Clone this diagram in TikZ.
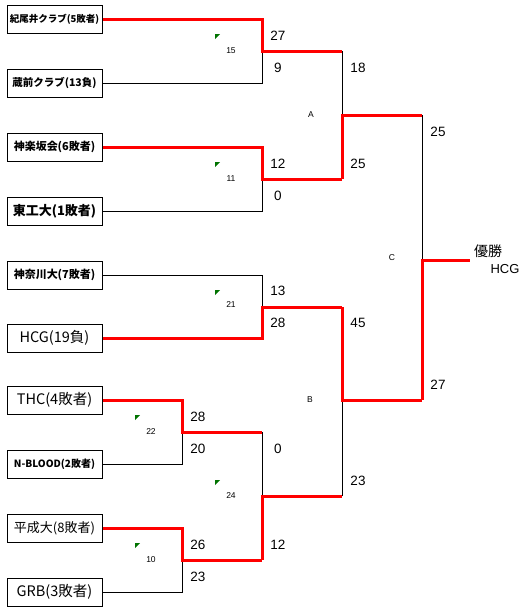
\documentclass[tikz,border=0pt]{standalone}
\usepackage{fontspec}
\setmainfont{Liberation Sans}
\newfontfamily\jpfont{Noto Sans CJK JP}

\newcommand*{\boxx}{54.5}
\newcommand*{\seedmark}[2]{\fill[seedtip] (#1,#2) -- ++(5,0) -- ++(-5,5) -- cycle;}

\begin{document}
\begin{tikzpicture}
[
	x=1pt,
	y=-1pt,
	team/.style={draw,line width=1pt,minimum width=95pt,minimum height=28pt,inner sep=0pt,font=\jpfont\bfseries\fontsize{#1}{#1}\selectfont},
	plainteam/.style={team=#1,font=\jpfont\fontsize{#1}{#1}\selectfont},
	win/.style={red,line width=3pt},
	lose/.style={black,line width=1pt},
	score/.style={font=\fontsize{13.5}{13.5}\selectfont,inner sep=0pt},
	seed/.style={font=\fontsize{8.5}{8.5}\selectfont,inner sep=0pt},
	seedtip/.style={fill=green!45!black}
]

	\useasboundingbox (0,0) rectangle (528,614);

	% teams
	\node[team=9.5] (kioi) at (\boxx,19) {紀尾井クラブ(5敗者)};
	\node[team=10.5] (kuramae) at (\boxx,83) {蔵前クラブ(13負)};
	\node[team=11] (kagura) at (\boxx,147) {神楽坂会(6敗者)};
	\node[team=13] (tokodai) at (\boxx,211) {東工大(1敗者)};
	\node[team=11] (kanagawa) at (\boxx,275) {神奈川大(7敗者)};
	\node[plainteam=14.5] (hcg) at (\boxx,338) {HCG(19負)};
	\node[plainteam=14.5] (thc) at (\boxx,400) {THC(4敗者)};
	\node[team=10] (nblood) at (\boxx,464) {N-BLOOD(2敗者)};
	\node[plainteam=13] (heisei) at (\boxx,528) {平成大(8敗者)};
	\node[plainteam=14.5] (grb) at (\boxx,592) {GRB(3敗者)};

	% junctions
	\coordinate (q1) at (262,51);
	\coordinate (q2) at (262,179);
	\coordinate (q3) at (262,307);
	\coordinate (r1) at (182,432);
	\coordinate (r2) at (182,560);
	\coordinate (p1) at (262,432);
	\coordinate (p2) at (262,560);
	\coordinate (q4) at (262,496);
	\coordinate (s1) at (342,51);
	\coordinate (s2) at (342,179);
	\coordinate (s3) at (342,307);
	\coordinate (s4) at (342,496);
	\coordinate (sa) at (342,115);
	\coordinate (sb) at (342,400);
	\coordinate (c1) at (422,115);
	\coordinate (c2) at (422,400);
	\coordinate (fc) at (422,260);
	\coordinate (champ) at (470,260);

	% losers
	\draw[lose] (kuramae.east) -| (q1);
	\draw[lose] (tokodai.east) -| (q2);
	\draw[lose] (kanagawa.east) -| (q3);
	\draw[lose] (nblood.east) -| (r1);
	\draw[lose] (grb.east) -| (r2);
	\draw[lose] (p1) -- (q4);
	\draw[lose] (s1) -- (sa);
	\draw[lose] (s4) -- (sb);
	\draw[lose] (c1) -- (fc);

	% winners
	\draw[win] (kioi.east) -| (q1) -- (s1);
	\draw[win] (kagura.east) -| (q2) -- (s2);
	\draw[win] (hcg.east) -| (q3) -- (s3);
	\draw[win] (thc.east) -| (r1) -- (p1);
	\draw[win] (heisei.east) -| (r2) -- (p2);
	\draw[win] (p2) -- (q4) -- (s4);
	\draw[win] (s2) -- (sa) -- (c1);
	\draw[win] (s3) -- (sb) -- (c2);
	\draw[win] (c2) -- (fc) -- (champ);

	% scores
	\node[score] (sc1) at (278,36) {27};
	\node[score] (sc2) at (278,68) {9};
	\node[score] (sc3) at (278,164) {12};
	\node[score] (sc4) at (278,196) {0};
	\node[score] (sc5) at (278,291) {13};
	\node[score] (sc6) at (278,323) {28};
	\node[score] (sc7) at (198,417) {28};
	\node[score] (sc8) at (198,449) {20};
	\node[score] (sc9) at (198,545) {26};
	\node[score] (sc10) at (198,577) {23};
	\node[score] (sc11) at (278,449) {0};
	\node[score] (sc12) at (278,545) {12};
	\node[score] (sc13) at (358,68) {18};
	\node[score] (sc14) at (358,164) {25};
	\node[score] (sc15) at (358,323) {45};
	\node[score] (sc16) at (358,481) {23};
	\node[score] (sc17) at (438,132) {25};
	\node[score] (sc18) at (438,385) {27};

	% match numbers
	\seedmark{215}{34}
	\node[seed] (m15) at (231,51) {15};
	\seedmark{215}{162}
	\node[seed] (m11) at (231,179) {11};
	\seedmark{215}{290}
	\node[seed] (m21) at (231,305) {21};
	\seedmark{135}{415}
	\node[seed] (m22) at (151,432) {22};
	\seedmark{215}{480}
	\node[seed] (m24) at (231,496) {24};
	\seedmark{135}{543}
	\node[seed] (m10) at (151,560) {10};
	\node[seed] (ma) at (311,115) {A};
	\node[seed] (mb) at (310,400) {B};
	\node[seed] (mc) at (392,258) {C};

	% champion
	\node[font=\jpfont\fontsize{14}{14}\selectfont,inner sep=0pt] (yusho) at (488,251) {優勝};
	\node[font=\fontsize{13}{13}\selectfont,inner sep=0pt] (yushoteam) at (505,269) {HCG};

\end{tikzpicture}
\end{document}
